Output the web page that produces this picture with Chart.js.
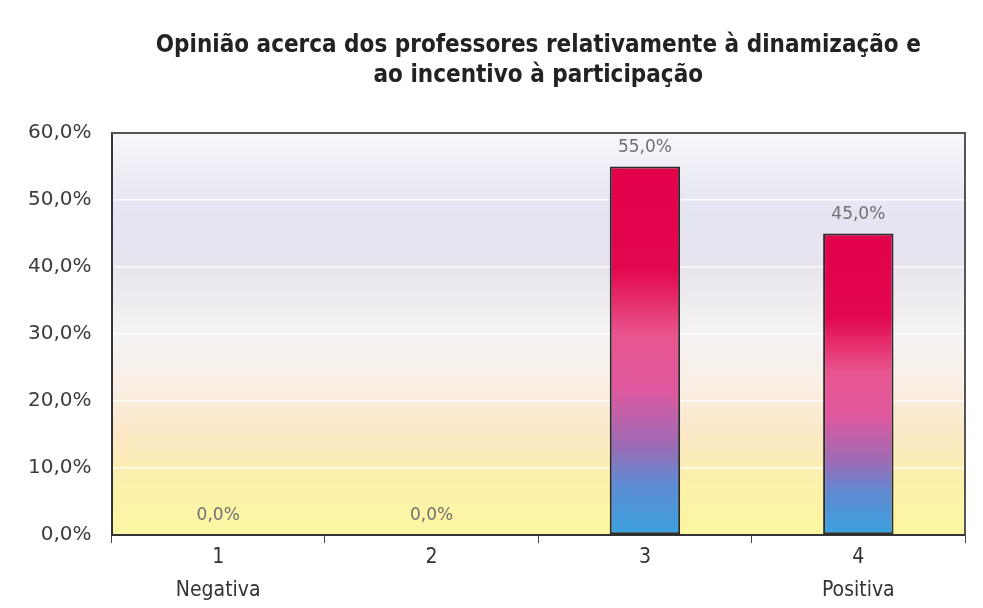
<!DOCTYPE html>
<html>
<head>
<meta charset="utf-8">
<script src="https://cdn.jsdelivr.net/npm/chart.js@4.4.1/dist/chart.umd.min.js"></script>
<style>
  html, body { margin: 0; padding: 0; background: #ffffff; }
  #wrap { width: 983px; height: 608px; position: relative; }
</style>
</head>
<body>
<div id="wrap"><canvas id="c" width="983" height="608"></canvas></div>
<script>
// ---- Data ----
const titleLines = ["Opinião acerca dos professores relativamente à dinamização e", "ao incentivo à participação"];
const categories = [["1", "Negativa"], ["2"], ["3"], ["4", "Positiva"]];
const values = [0.0, 0.0, 55.0, 45.0];
const yMax = 60;
const yStep = 10;

const fmt = v => v.toFixed(1).replace('.', ',') + '%';

function barGradient(context) {
  const chart = context.chart;
  if (!chart.chartArea) return '#e3004b';
  const ys = chart.scales.y;
  const top = ys.getPixelForValue(context.raw);
  const bot = ys.getPixelForValue(0);
  if (Math.abs(bot - top) < 1) return '#e3004b';
  const g = chart.ctx.createLinearGradient(0, top, 0, bot);
  g.addColorStop(0.00, '#e2004a');
  g.addColorStop(0.28, '#e2084f');
  g.addColorStop(0.46, '#e8568f');
  g.addColorStop(0.60, '#e0589d');
  g.addColorStop(0.76, '#9b6cb6');
  g.addColorStop(0.86, '#5f8bd2');
  g.addColorStop(1.00, '#3aa2df');
  return g;
}

const plotBg = {
  id: 'plotBg',
  beforeDraw(chart) {
    const { ctx, chartArea: a } = chart;
    const g = ctx.createLinearGradient(0, a.top, 0, a.bottom);
    g.addColorStop(0.00, '#f6f6fb');
    g.addColorStop(0.20, '#e5e5f2');
    g.addColorStop(0.32, '#e7e4ef');
    g.addColorStop(0.50, '#f5f3f3');
    g.addColorStop(0.62, '#f9efe6');
    g.addColorStop(0.75, '#fce8c6');
    g.addColorStop(0.88, '#fcf2a8');
    g.addColorStop(1.00, '#fcf6a4');
    ctx.save();
    ctx.fillStyle = g;
    ctx.fillRect(a.left, a.top, a.right - a.left, a.bottom - a.top);
    ctx.restore();
  },
  afterDatasetsDraw(chart) {
    const { ctx, chartArea: a } = chart;
    ctx.save();
    ctx.strokeStyle = '#555555';
    ctx.lineWidth = 2;
    ctx.beginPath();
    ctx.moveTo(a.left, a.top);
    ctx.lineTo(a.right, a.top);
    ctx.lineTo(a.right, a.bottom);
    ctx.stroke();
    // value labels
    const meta = chart.getDatasetMeta(0);
    ctx.fillStyle = '#707070';
    ctx.font = '17px "DejaVu Sans"';
    ctx.textAlign = 'center';
    ctx.textBaseline = 'middle';
    meta.data.forEach((bar, i) => {
      ctx.fillText(fmt(values[i]), bar.x, bar.y - 19);
    });
    ctx.restore();
  }
};

new Chart(document.getElementById('c'), {
  type: 'bar',
  data: {
    labels: categories,
    datasets: [{
      data: values,
      backgroundColor: barGradient,
      borderColor: '#2a2a2a',
      borderWidth: 2,
      borderSkipped: false,
      barPercentage: 0.33,
      categoryPercentage: 1.0
    }]
  },
  options: {
    responsive: false,
    animation: false,
    layout: { padding: { left: 8, right: 18, top: 0, bottom: 3 } },
    plugins: {
      legend: { display: false },
      tooltip: { enabled: false },
      title: {
        display: true,
        text: titleLines,
        fullSize: false,
        color: '#222222',
        font: { family: '"DejaVu Sans Condensed", "DejaVu Sans"', size: 24, weight: 'bold', lineHeight: 1.25 },
        padding: { top: 31, bottom: 42 }
      }
    },
    scales: {
      x: {
        grid: { display: true, drawOnChartArea: false, drawTicks: true, tickLength: 8, tickColor: '#444444', offset: true },
        border: { display: true, color: '#333333', width: 2 },
        ticks: {
          color: '#333333',
          font: { family: '"DejaVu Sans Condensed", "DejaVu Sans"', size: 21, lineHeight: 1.57 },
          padding: -2
        }
      },
      y: {
        min: 0,
        max: yMax,
        grid: { color: 'rgba(255,255,255,0.85)', lineWidth: 1.5, drawTicks: false },
        border: { display: true, color: '#333333', width: 2 },
        ticks: {
          stepSize: yStep,
          color: '#3c3c3c',
          font: { family: '"DejaVu Sans"', size: 20 },
          padding: 20,
          callback: v => fmt(v)
        }
      }
    }
  },
  plugins: [plotBg]
});
</script>
</body>
</html>
